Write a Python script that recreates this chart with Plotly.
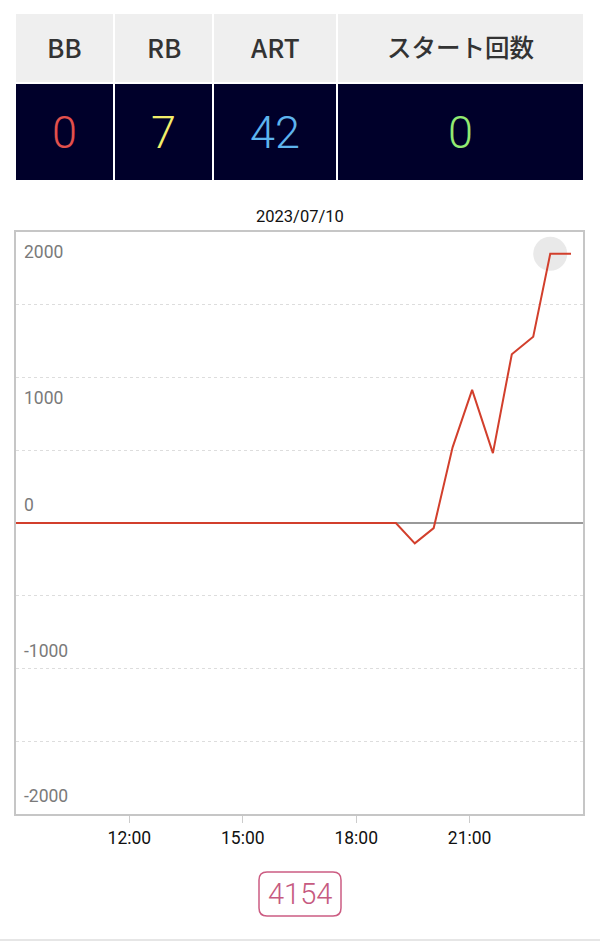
import plotly.graph_objects as go

# ---- data ----
table_headers = ["BB", "RB", "ART", "スタート回数"]
table_values = ["0", "7", "42", "0"]
value_colors = ["#e2504c", "#f2ee6a", "#5eb4ee", "#92ea72"]

chart_date = "2023/07/10"
times = ["2023-07-10 09:00", "2023-07-10 19:03", "2023-07-10 19:33", "2023-07-10 20:03",
         "2023-07-10 20:33", "2023-07-10 21:04", "2023-07-10 21:37", "2023-07-10 22:07",
         "2023-07-10 22:41", "2023-07-10 23:08", "2023-07-10 23:41"]
diff = [0, 0, -140, -35, 520, 915, 480, 1160, 1280, 1850, 1850]
highlight_index = 9

x_tickvals = ["2023-07-10 12:00", "2023-07-10 15:00", "2023-07-10 18:00", "2023-07-10 21:00"]
y_label_vals = [2000, 1000, 0, -1000, -2000]
badge_text = "4154"

W, H = 600, 943
def px(x):
    return x / W
def py(y):
    return 1 - y / H

fig = go.Figure()

fig.add_trace(go.Scatter(
    x=[times[highlight_index]], y=[diff[highlight_index]], mode="markers",
    marker=dict(size=34, color="#e9e9e9"), hoverinfo="skip", showlegend=False))
fig.add_trace(go.Scatter(
    x=times, y=diff, mode="lines",
    line=dict(color="#d23f2c", width=2), showlegend=False))

shapes = []
annotations = []

# table
col_edges = [16, 114, 213, 337, 583]
for i, (h, v, c) in enumerate(zip(table_headers, table_values, value_colors)):
    x0 = col_edges[i] + (1 if i > 0 else 0)
    x1 = col_edges[i + 1] - (1 if i < len(table_headers) - 1 else 0)
    shapes.append(dict(type="rect", xref="paper", yref="paper",
                       x0=px(x0), x1=px(x1), y0=py(82), y1=py(14),
                       fillcolor="#efefef", line=dict(width=0), layer="below"))
    shapes.append(dict(type="rect", xref="paper", yref="paper",
                       x0=px(x0), x1=px(x1), y0=py(180), y1=py(84),
                       fillcolor="#00002a", line=dict(width=0), layer="below"))
    xc = (x0 + x1) / 2
    is_latin = h.isascii()
    annotations.append(dict(x=px(xc), y=py(47), xref="paper", yref="paper",
                            text=h, showarrow=False, xanchor="center", yanchor="middle",
                            font=dict(size=26 if is_latin else 24.5, color="#333333", weight=500,
                                      family="Noto Sans CJK JP, Roboto, sans-serif")))
    annotations.append(dict(x=px(xc), y=py(132), xref="paper", yref="paper",
                            text=v, showarrow=False, xanchor="center", yanchor="middle",
                            font=dict(size=45, color=c, family="Roboto, sans-serif", weight=300)))

# date title
annotations.append(dict(x=px(300), y=py(216), xref="paper", yref="paper", text=chart_date,
                        showarrow=False, xanchor="center", yanchor="middle",
                        font=dict(size=16.5, color="#111111", family="Roboto, sans-serif")))

# y labels inside plot
for v in y_label_vals:
    above = v <= 0
    annotations.append(dict(x=0, y=v, xref="x domain", yref="y", text=str(v),
                            showarrow=False, xanchor="left",
                            yanchor="bottom" if above else "top",
                            xshift=6, yshift=6 if above else -8,
                            font=dict(size=17.5, color="#7a7a7a", family="Roboto, sans-serif")))

# badge (rounded rectangle)
bx0, bx1, by0, by1, r = 259, 341, 872, 916, 8
badge_path = (f"M {px(bx0 + r)},{py(by0)} L {px(bx1 - r)},{py(by0)} "
              f"Q {px(bx1)},{py(by0)} {px(bx1)},{py(by0 + r)} "
              f"L {px(bx1)},{py(by1 - r)} Q {px(bx1)},{py(by1)} {px(bx1 - r)},{py(by1)} "
              f"L {px(bx0 + r)},{py(by1)} Q {px(bx0)},{py(by1)} {px(bx0)},{py(by1 - r)} "
              f"L {px(bx0)},{py(by0 + r)} Q {px(bx0)},{py(by0)} {px(bx0 + r)},{py(by0)} Z")
shapes.append(dict(type="path", xref="paper", yref="paper", path=badge_path,
                   line=dict(color="#cc5c82", width=1.5), fillcolor="white"))
annotations.append(dict(x=px(300), y=py(894), xref="paper", yref="paper", text=badge_text,
                        showarrow=False, xanchor="center", yanchor="middle",
                        font=dict(size=29, color="#c65a80", family="Roboto, sans-serif", weight=300)))
# bottom page line
shapes.append(dict(type="line", xref="paper", yref="paper", x0=0, x1=1,
                   y0=py(940), y1=py(940), line=dict(color="#e6e6e6", width=2)))

fig.update_layout(
    width=W, height=H,
    margin=dict(l=0, r=0, t=0, b=0),
    paper_bgcolor="white", plot_bgcolor="white",
    shapes=shapes, annotations=annotations,
    xaxis=dict(domain=[px(16), px(583)], type="date",
               range=["2023-07-10 09:00", "2023-07-11 00:00"],
               tickvals=x_tickvals, tickformat="%H:%M",
               ticks="outside", ticklen=7, tickcolor="#cccccc", tickwidth=1,
               showgrid=False, showline=True, mirror=True,
               linecolor="#c6c6c6", linewidth=2,
               tickfont=dict(size=17.5, color="#111111", family="Roboto, sans-serif")),
    yaxis=dict(domain=[py(814), py(232)], range=[-2000, 2000], dtick=500,
               showticklabels=False, ticks="",
               showgrid=True, gridcolor="#dddddd", griddash="dot", gridwidth=1,
               zeroline=True, zerolinecolor="#999999", zerolinewidth=1.5,
               showline=True, mirror=True, linecolor="#c6c6c6", linewidth=2),
)

fig.write_html("out.html", config={"displayModeBar": False},
               post_script="document.body.style.margin='0px';")
